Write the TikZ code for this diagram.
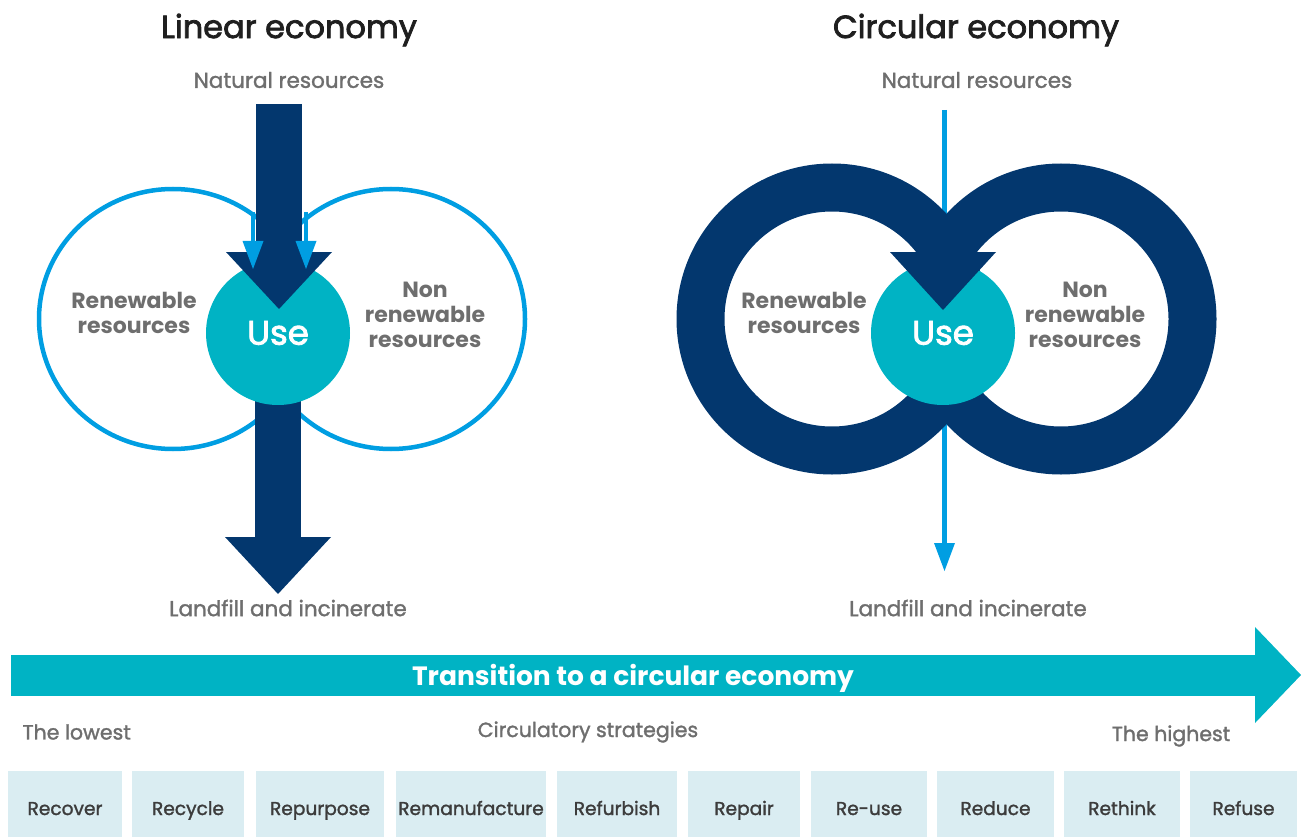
\documentclass[tikz,border=0pt]{standalone}
\usepackage{fontspec}
\setmainfont{Poppins}
\newfontfamily\popmed[FakeBold=2.4]{Poppins}
\newfontfamily\poplite[FakeBold=1.5]{Poppins}
\usetikzlibrary{arrows.meta}

\definecolor{navy}{RGB}{3,55,110}
\definecolor{skyline}{RGB}{0,158,226}
\definecolor{tealuse}{RGB}{0,179,196}
\definecolor{boxblue}{RGB}{218,237,242}
\definecolor{txtgray}{RGB}{110,110,110}
\definecolor{txtdark}{RGB}{60,60,60}

\tikzset{
  headtxt/.style={font=\popmed\fontsize{32}{36}\selectfont, text=black!88},
  flowtxt/.style={font=\poplite\fontsize{21.5}{25}\selectfont, text=txtgray},
  restxt/.style={font=\bfseries\fontsize{22}{25}\selectfont, text=txtgray, align=center},
  usenode/.style={circle, fill=tealuse, minimum size=144pt, inner sep=0pt, text=white, font=\popmed\fontsize{34}{38}\selectfont},
  bigflow/.style={draw=navy, line width=46pt, -{Triangle[width=106pt, length=57pt, line width=0pt]}},
  thinflow/.style={draw=skyline, line width=4.5pt, -{Triangle[width=21pt, length=28pt, line width=0pt]}},
  resloop/.style={draw=skyline, line width=4.5pt},
  ringline/.style={draw=navy, line width=48pt},
  transflow/.style={draw=tealuse, line width=41pt, -{Triangle[width=96pt, length=46pt, line width=0pt]}},
  steptxt/.style={font=\poplite\fontsize{20.5}{24}\selectfont, text=txtgray},
  stratbox/.style={fill=boxblue, minimum height=66pt, inner sep=0pt, text=txtdark, font=\poplite\fontsize{18.6}{22}\selectfont, text height=24pt, text depth=2pt},
}

\begin{document}
\begin{tikzpicture}[x=1pt, y=-1pt]
  \useasboundingbox (0,0) rectangle (1301,837);

  % linear economy
  \node[headtxt] (linT) at (289,30) {Linear economy};
  \node[flowtxt] (natL) at (289,80) {Natural resources};
  \draw[resloop] (173,319) ellipse [x radius=134, y radius=130];
  \draw[resloop] (391,319) ellipse [x radius=134, y radius=130];
  \coordinate (outL) at (278,330);
  \coordinate (endL) at (278,594);
  \draw[bigflow] (outL) -- (endL);
  \node[usenode] (useL) at (278,333) {Use};
  \coordinate (inL) at (279,104);
  \coordinate (tipL) at (279,309);
  \draw[bigflow] (inL) -- (tipL);
  \coordinate (renA) at (253,212);
  \coordinate (renB) at (253,269);
  \coordinate (nonA) at (306,212);
  \coordinate (nonB) at (306,269);
  \draw[thinflow] (renA) -- (renB);
  \draw[thinflow] (nonA) -- (nonB);
  \node[restxt] (renL) at (134,313) {Renewable\\resources};
  \node[restxt] (nonL) at (425,315) {Non\\renewable\\resources};
  \node[flowtxt] (landL) at (288,608) {Landfill and incinerate};

  % circular economy
  \node[headtxt] (cirT) at (976,30) {Circular economy};
  \node[flowtxt] (natR) at (977,80) {Natural resources};
  \coordinate (inR) at (944.5,110);
  \coordinate (outR) at (944.5,571);
  \draw[thinflow] (inR) -- (outR);
  \draw[ringline] (832,319) circle [radius=131.5];
  \draw[ringline] (1061,319) circle [radius=131.5];
  \node[usenode] (useR) at (943,333) {Use};
  \fill[navy] (890,252) -- (996,252) -- (943,310) -- cycle;
  \node[restxt] (renR) at (804,313) {Renewable\\resources};
  \node[restxt] (nonR) at (1085,315) {Non\\renewable\\resources};
  \node[flowtxt] (landR) at (968,608) {Landfill and incinerate};

  % transition
  \coordinate (trA) at (11,675);
  \coordinate (trB) at (1301,675);
  \draw[transflow] (trA) -- (trB);
  \node[font=\bfseries\fontsize{26.5}{30}\selectfont, text=white] (trT) at (633,678) {Transition to a circular economy};
  \node[steptxt, anchor=west] (lowT) at (19,732) {The lowest};
  \node[steptxt] (stratT) at (588,732) {Circulatory strategies};
  \node[steptxt] (highT) at (1171,736) {The highest};

  \node[stratbox, minimum width=114pt] (s1) at (65,804) {Recover};
  \node[stratbox, minimum width=112pt] (s2) at (188,804) {Recycle};
  \node[stratbox, minimum width=128pt] (s3) at (320,804) {Repurpose};
  \node[stratbox, minimum width=150pt] (s4) at (471,804) {Remanufacture};
  \node[stratbox, minimum width=120pt] (s5) at (617,804) {Refurbish};
  \node[stratbox, minimum width=112pt] (s6) at (744,804) {Repair};
  \node[stratbox, minimum width=116pt] (s7) at (869,804) {Re-use};
  \node[stratbox, minimum width=117pt] (s8) at (995.5,804) {Reduce};
  \node[stratbox, minimum width=116pt] (s9) at (1122,804) {Rethink};
  \node[stratbox, minimum width=107pt] (s10) at (1243.5,804) {Refuse};
\end{tikzpicture}
\end{document}
